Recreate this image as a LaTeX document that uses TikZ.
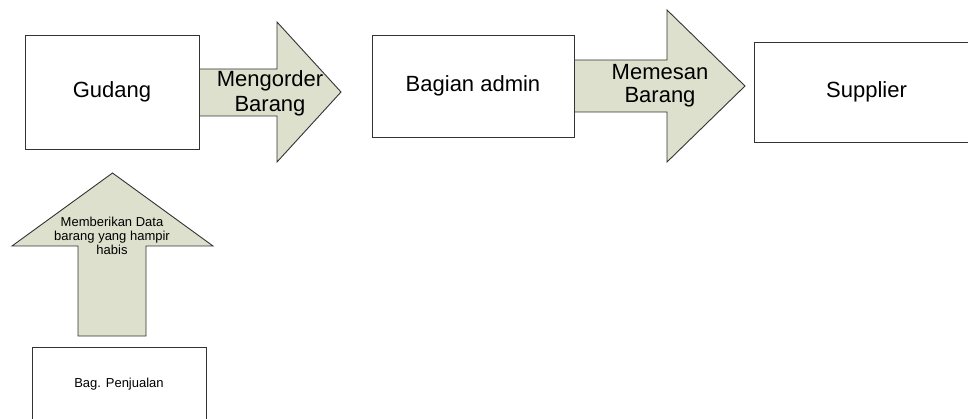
\documentclass[tikz,border=0pt]{standalone}
\usepackage{fontspec}
\setmainfont{Liberation Sans}
\definecolor{hijau}{RGB}{221,224,204}
\begin{document}
\begin{tikzpicture}[x=1pt, y=-1pt, line width=0.9pt,
        kotak/.style = {draw=black!80, rectangle, inner sep=0pt},
        panah/.style = {draw=black!80, fill=hijau, line join=miter},
        besar/.style = {font=\fontsize{22}{25}\selectfont, align=center},
        kecil/.style = {font=\fontsize{13}{14}\selectfont, align=center}]
        \useasboundingbox (0,0) rectangle (968,419);
        \clip (0,0) rectangle (968,419);
        \node[kotak, besar, minimum width=174, minimum height=114] (1) at (112,92) {Gudang};
        \node[kotak, besar, minimum width=202, minimum height=102] (2) at (473,86) {Bagian admin};
        \node[kotak, besar, minimum width=225, minimum height=100] (3) at (866.5,92) {Supplier};
        \node[kotak, kecil, minimum width=174, minimum height=74] (4) at (119,384) {Bag. Penjualan};
        % panah blok
        \draw[panah] (1.east |- 0,69) -- (277,69) -- (277,22) -- (341,92) -- (277,162) -- (277,116) -- (1.east |- 0,116) -- cycle;
        \draw[panah] (2.east |- 0,60) -- (667,60) -- (667,10) -- (745,86) -- (667,162) -- (667,112) -- (2.east |- 0,112) -- cycle;
        \draw[panah] (78,336) -- (78,246) -- (12,246) -- (112.5,173) -- (213,246) -- (146,246) -- (146,336) -- cycle;
        \node[besar] (a) at (270,93) {Mengorder\\Barang};
        \node[besar, font=\fontsize{22}{23}\selectfont] (b) at (660,86) {Memesan\\Barang};
        \node[kecil] (c) at (112,236) {Memberikan Data\\barang yang hampir\\habis};
    \end{tikzpicture}
\end{document}
